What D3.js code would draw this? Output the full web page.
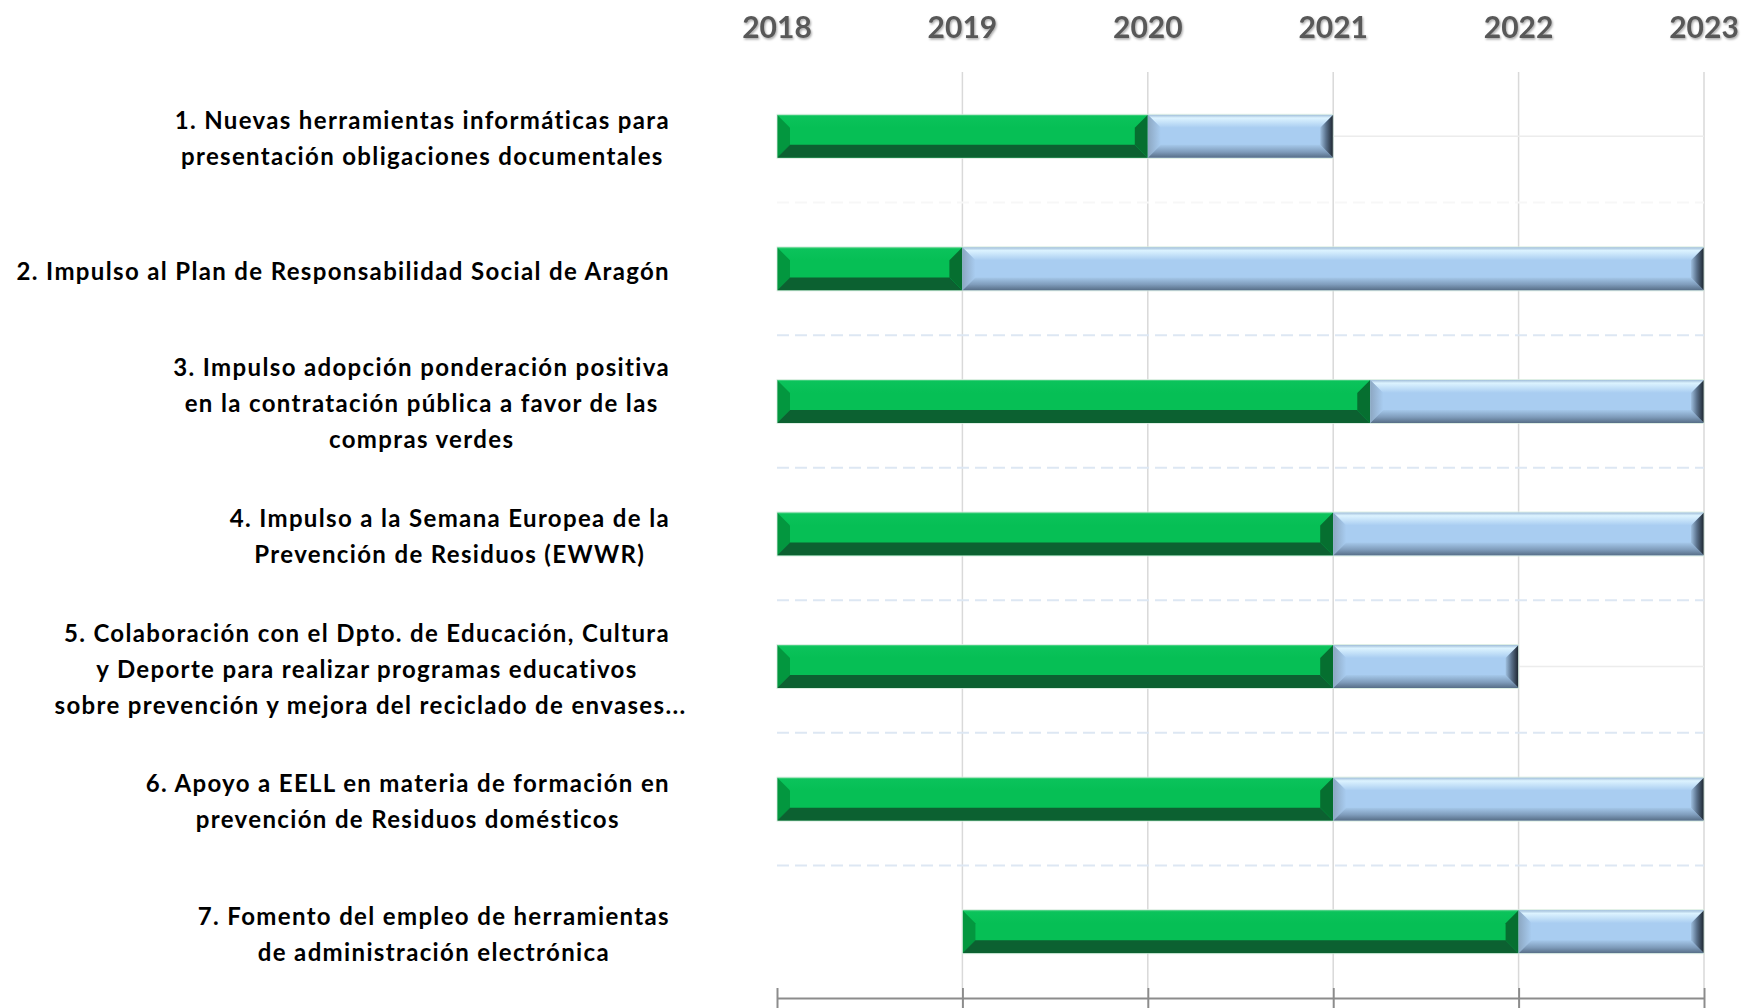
<!DOCTYPE html>
<html>
<head>
<meta charset="utf-8">
<script src="https://cdn.jsdelivr.net/npm/d3@7"></script>
<style>
  body { margin: 0; background: #fff; }
  svg { display: block; }
  .lbl { font-family: Lato, "Open Sans", sans-serif; font-weight: 700; font-size: 24px; fill: #000; letter-spacing: 1.35px; }
  .yr { font-family: Lato, "Open Sans", sans-serif; font-weight: 700; font-size: 30px; fill: #595959; }
</style>
</head>
<body>
<div id="chart"></div>
<script>
// label lines for each action
const categories = [
  ['1. Nuevas herramientas informáticas para', 'presentación obligaciones documentales'],
  ['2. Impulso al Plan de Responsabilidad Social de Aragón'],
  ['3. Impulso adopción ponderación positiva', 'en la contratación pública a favor de las', 'compras verdes'],
  ['4. Impulso a la Semana Europea de la', 'Prevención de Residuos (EWWR)'],
  ['5. Colaboración con el Dpto. de Educación, Cultura', 'y Deporte para realizar programas educativos', ' sobre prevención y mejora del reciclado de envases...'],
  ['6. Apoyo a EELL en materia de formación en', 'prevención de Residuos domésticos'],
  ['7. Fomento del empleo de herramientas', 'de administración electrónica']
]
const startYear = [2018, 2018, 2018, 2018, 2018, 2018, 2019]
const doneYears = [2, 1, 3.2, 3, 3, 3, 3]        // green part
const pendingYears = [1, 4, 1.8, 2, 1, 2, 1]     // blue part
const yearTicks = [2018, 2019, 2020, 2021, 2022, 2023]

const w = 1742, h = 1008
const plotTop = 72, plotBottom = 998
const labelRight = 670

const svg = d3.select('#chart').append('svg').attr('width', w).attr('height', h)
const defs = svg.append('defs')

const xScale = d3.scaleLinear().domain([2018, 2023]).range([777, 1704])
const yScale = d3.scaleBand().domain(d3.range(categories.length)).range([plotTop - 2, plotBottom])
                 .paddingInner(0.675).paddingOuter(0.3375)
const step = yScale.step()

// shadow for year labels
const f = defs.append('filter').attr('id', 'shadow').attr('x', '-10%').attr('y', '-20%').attr('width', '130%').attr('height', '150%')
f.append('feDropShadow').attr('dx', 1).attr('dy', 1.5).attr('stdDeviation', 1.2)
 .attr('flood-color', '#000').attr('flood-opacity', 0.35)

function grad(id, x2, y2, stops) {
  const g = defs.append('linearGradient').attr('id', id)
               .attr('x1', 0).attr('y1', 0).attr('x2', x2).attr('y2', y2)
  stops.forEach(s => g.append('stop').attr('offset', s[0]).attr('stop-color', s[1]))
}
grad('bTop', 0, 1, [[0, '#9fbcd8'], [0.25, '#dcf3ff'], [1, '#a9cdf1']])
grad('bBot', 0, 1, [[0, '#a5c8ea'], [0.55, '#7f9cbb'], [1, '#566d86']])
grad('bLeft', 1, 0, [[0, '#8ca7c2'], [1, '#a9cdf1']])
grad('bRight', 1, 0, [[0, '#9fc0e0'], [0.45, '#5a718b'], [1, '#1b232d']])
grad('gTop', 0, 1, [[0, '#5fd791'], [0.12, '#0bc35b'], [1, '#06bf55']])

// vertical gridlines
svg.append('g').selectAll('line')
   .data(yearTicks.slice(1))
   .enter().append('line')
   .attr('x1', d => xScale(d)).attr('x2', d => xScale(d))
   .attr('y1', plotTop).attr('y2', plotBottom - 10)
   .attr('stroke', '#d9d9d9').attr('stroke-width', 1.5)

// dashed separators between rows
const sepY = d => yScale(d) - step * yScale.paddingInner() / 2
svg.append('g').selectAll('line')
   .data(d3.range(1, categories.length))
   .enter().append('line')
   .attr('x1', xScale(2018)).attr('x2', xScale(2023))
   .attr('y1', sepY).attr('y2', sepY)
   .attr('stroke', (d) => d === 1 ? '#f7f7f7' : '#dde7f3').attr('stroke-width', 2)
   .attr('stroke-dasharray', '12,6')

// thin centre lines
svg.append('g').selectAll('line')
   .data(categories)
   .enter().append('line')
   .attr('x1', (d, i) => xScale(startYear[i])).attr('x2', xScale(2023))
   .attr('y1', (d, i) => yScale(i) + yScale.bandwidth() / 2)
   .attr('y2', (d, i) => yScale(i) + yScale.bandwidth() / 2)
   .attr('stroke', '#ececec').attr('stroke-width', 1.5)

// bottom axis
const xA = d3.axisBottom(xScale).tickValues(yearTicks).tickFormat('').tickSize(0)
const ax = svg.append('g').attr('transform', 'translate(0,' + plotBottom + ')').call(xA)
ax.select('.domain').attr('stroke', '#8c8c8c').attr('stroke-width', 2)
ax.selectAll('.tick line').attr('y1', -10).attr('y2', 12).attr('stroke', '#8c8c8c').attr('stroke-width', 2)

// years on top
svg.append('g').selectAll('text')
   .data(yearTicks)
   .enter().append('text')
   .attr('class', 'yr')
   .attr('x', d => xScale(d)).attr('y', 38)
   .attr('text-anchor', 'middle')
   .attr('filter', 'url(#shadow)')
   .text(d => d)

const b = 13

function bevel(g, x0, x1, y0, y1, fills) {
  const pts = {
    top: [[x0, y0], [x1, y0], [x1 - b, y0 + b], [x0 + b, y0 + b]],
    left: [[x0, y0], [x0 + b, y0 + b], [x0 + b, y1 - b], [x0, y1]],
    bottom: [[x0, y1], [x0 + b, y1 - b], [x1 - b, y1 - b], [x1, y1]],
    right: [[x1, y0], [x1, y1], [x1 - b, y1 - b], [x1 - b, y0 + b]]
  }
  g.append('rect').attr('x', x0).attr('y', y0).attr('width', x1 - x0).attr('height', y1 - y0).attr('fill', fills.face)
  Object.keys(pts).forEach(k => {
    g.append('polygon').attr('points', pts[k].map(p => p.join(',')).join(' ')).attr('fill', fills[k])
  })
}

const bars = svg.append('g')
categories.forEach((c, i) => {
  const y0 = yScale(i), y1 = yScale(i) + yScale.bandwidth()
  const gs = xScale(startYear[i])
  const ge = xScale(startYear[i] + doneYears[i])
  const be = xScale(startYear[i] + doneYears[i] + pendingYears[i])
  const g = bars.append('g')
  bevel(g, gs, ge, y0, y1, { face: '#06bf55', top: 'url(#gTop)', left: '#03973f', bottom: '#0c6131', right: '#066f30' })
  bevel(g, ge, be, y0, y1, { face: '#a9cdf1', top: 'url(#bTop)', left: 'url(#bLeft)', bottom: 'url(#bBot)', right: 'url(#bRight)' })
  g.append('rect').attr('x', gs).attr('y', y0 - 0.5).attr('width', be - gs).attr('height', y1 - y0 + 1)
   .attr('fill', 'none').attr('stroke', '#d8ecdf').attr('stroke-width', 0.8)
})

// category labels (lines centred, block right aligned on first line)
const lineH = 36
const labels = svg.append('g')
categories.forEach((lines, i) => {
  const cy = yScale(i) + yScale.bandwidth() / 2
  const t = labels.append('text').attr('class', 'lbl').attr('text-anchor', 'middle')
  lines.forEach((l, j) => {
    t.append('tspan').attr('y', cy + (j - (lines.length - 1) / 2) * lineH + 11).text(l)
  })
  const first = t.select('tspan').node().getComputedTextLength()
  t.selectAll('tspan').attr('x', labelRight - first / 2)
})
</script>
</body>
</html>
